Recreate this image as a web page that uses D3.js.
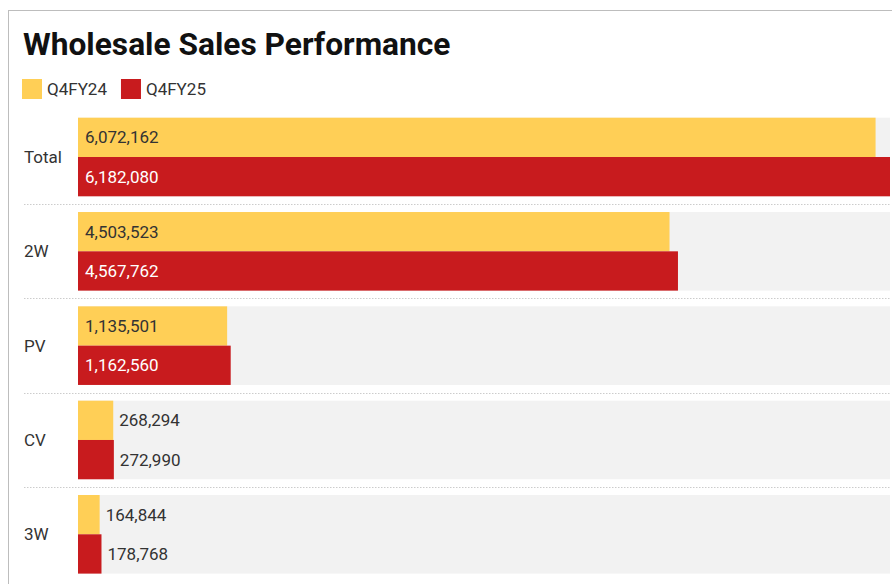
<!DOCTYPE html>
<html>
<head>
<meta charset="utf-8">
<script src="https://cdn.jsdelivr.net/npm/d3@7/dist/d3.min.js"></script>
<style>
  html, body { margin: 0; padding: 0; background: #fff; }
  svg { display: block; font-family: Roboto, "Noto Sans", sans-serif; }
</style>
</head>
<body>
<svg id="chart" width="892" height="584"></svg>
<script>
const title = "Wholesale Sales Performance";
const categories = ["Total", "2W", "PV", "CV", "3W"];
const seriesNames = ["Q4FY24", "Q4FY25"];
const q4fy24 = [6072162, 4503523, 1135501, 268294, 164844];
const q4fy25 = [6182080, 4567762, 1162560, 272990, 178768];
const seriesColors = ["#FFCF56", "#C81B1E"];
const labelColorsInside = ["#333333", "#ffffff"];

const svg = d3.select("#chart");

// outer frame
svg.append("rect")
  .attr("x", 8.5).attr("y", 10.5)
  .attr("width", 1000).attr("height", 1000)
  .attr("fill", "none").attr("stroke", "#bdbdbd").attr("stroke-width", 1);

// title
svg.append("text")
  .attr("x", 23).attr("y", 55)
  .attr("font-size", 31.7).attr("font-weight", 700)
  .attr("fill", "#111")
  .text(title);

// legend
const legend = svg.append("g");
let lx = 22;
seriesNames.forEach((name, i) => {
  legend.append("rect")
    .attr("x", lx).attr("y", 79).attr("width", 20).attr("height", 20)
    .attr("fill", seriesColors[i]);
  const t = legend.append("text")
    .attr("x", lx + 25).attr("y", 95)
    .attr("font-size", 17).attr("fill", "#333")
    .text(name);
  lx += 25 + t.node().getComputedTextLength() + 14;
});

const x = d3.scaleLinear()
  .domain([0, d3.max(q4fy25.concat(q4fy24))])
  .range([78, 890]);

const y = d3.scaleBand()
  .domain(categories)
  .range([117.7, 573.6])
  .paddingInner(0.1667)
  .paddingOuter(0);

const ySub = d3.scaleBand()
  .domain(seriesNames)
  .range([0, y.bandwidth()])
  .padding(0);

const values = [q4fy24, q4fy25];
const fmt = d3.format(",");

// separators
categories.forEach((c, i) => {
  if (i === 0) return;
  const yy = y(c) - (y.step() - y.bandwidth()) / 2;
  svg.append("line")
    .attr("x1", 24).attr("x2", 890)
    .attr("y1", Math.round(yy) + 0.5).attr("y2", Math.round(yy) + 0.5)
    .attr("stroke", "#cccccc").attr("stroke-width", 1)
    .attr("stroke-dasharray", "1.5,1.5");
});

const rows = svg.selectAll("g.row")
  .data(categories)
  .join("g")
  .attr("class", "row")
  .attr("transform", d => `translate(0,${y(d)})`);

// background bands
rows.append("rect")
  .attr("x", x(0)).attr("y", 0)
  .attr("width", x.range()[1] - x(0))
  .attr("height", y.bandwidth())
  .attr("fill", "#f2f2f2");

// category labels
rows.append("text")
  .attr("x", 24)
  .attr("y", y.bandwidth() / 2)
  .attr("dy", "0.35em")
  .attr("font-size", 17).attr("fill", "#333")
  .text(d => d);

// bars + labels
rows.each(function(cat, ci) {
  const g = d3.select(this);
  seriesNames.forEach((s, si) => {
    const v = values[si][ci];
    const x0 = x(0), x1 = x(v);
    g.append("rect")
      .attr("x", x0).attr("y", ySub(s))
      .attr("width", x1 - x0).attr("height", ySub.bandwidth())
      .attr("fill", seriesColors[si]);
    const t = g.append("text")
      .attr("y", ySub(s) + ySub.bandwidth() / 2)
      .attr("dy", "0.35em")
      .attr("font-size", 17)
      .text(fmt(v));
    const tw = t.node().getComputedTextLength();
    if (x1 - x0 > tw + 16) {
      t.attr("x", x0 + 7).attr("fill", labelColorsInside[si]);
    } else {
      t.attr("x", x1 + 6).attr("fill", "#333");
    }
  });
});
</script>
</body>
</html>
